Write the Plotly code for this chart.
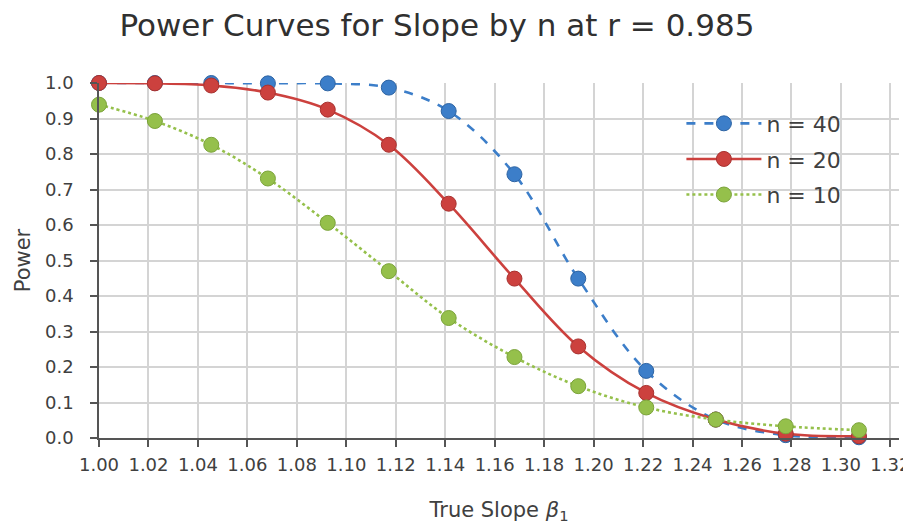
import plotly.graph_objects as go

slope = [1.000, 1.0226, 1.0454, 1.0683, 1.0925, 1.1172, 1.1414, 1.168, 1.1938, 1.2213, 1.2494, 1.2777, 1.3073]
power_n40 = [1.000, 1.000, 1.000, 0.999, 0.999, 0.987, 0.921, 0.743, 0.449, 0.189, 0.052, 0.008, 0.002]
power_n20 = [1.000, 0.999, 0.993, 0.973, 0.925, 0.826, 0.660, 0.449, 0.258, 0.127, 0.052, 0.012, 0.005]
power_n10 = [0.939, 0.893, 0.826, 0.731, 0.606, 0.470, 0.338, 0.228, 0.146, 0.086, 0.052, 0.033, 0.022]

x_ticks = [1.00 + 0.02 * i for i in range(17)]
y_ticks = [0.1 * i for i in range(11)]

series = [
    ("n = 40", power_n40, "#3C7EC9", "#2E64A3", "dash"),
    ("n = 20", power_n20, "#CC413E", "#A83230", "solid"),
    ("n = 10", power_n10, "#95C04B", "#7BA33A", "dot"),
]

font_family = "DejaVu Sans, Verdana, sans-serif"

fig = go.Figure()
for name, vals, col, edge, dash in series:
    fig.add_trace(go.Scatter(
        x=slope, y=vals, name=name, mode="lines+markers", legendgroup=name,
        line=dict(color=col, width=2.6, dash=dash, shape="spline", smoothing=1.0),
        marker=dict(size=15, color=col, line=dict(color=edge, width=1)),
        cliponaxis=False,
    ))

fig.update_layout(
    width=903, height=516,
    paper_bgcolor="white", plot_bgcolor="white",
    margin=dict(l=91, r=12, t=75, b=86, autoexpand=False),
    font=dict(family=font_family, color="#404040", size=17),
    title=dict(text="Power Curves for Slope by n at r = 0.985", x=0.475, xanchor="center",
               y=0.967, yanchor="middle", font=dict(size=31, color="#303030")),
    showlegend=True,
    legend=dict(x=0.728, y=0.945, xanchor="left", yanchor="top", bgcolor="rgba(255,255,255,0)",
                font=dict(size=22, color="#404040"), itemwidth=75, tracegroupgap=4),
    xaxis=dict(
        range=[1.0, 1.3235], tickvals=x_ticks, ticktext=[f"{v:.2f}" for v in x_ticks],
        showgrid=True, gridcolor="#D4D4D4", gridwidth=1.5,
        showline=True, linecolor="#555555", linewidth=1.5,
        ticks="outside", ticklen=7, tickcolor="#555555", tickwidth=1.5,
        tickfont=dict(size=18), automargin=False, ticklabeloverflow="allow",
        ticklabelstandoff=3,
        zeroline=False,
        title=dict(text="True Slope <i>β</i><sub>1</sub>", font=dict(size=21), standoff=30),
    ),
    yaxis=dict(
        range=[0, 1.0], tickvals=y_ticks, ticktext=[f"{v:.1f}" for v in y_ticks],
        showgrid=True, gridcolor="#D4D4D4", gridwidth=1.5,
        showline=True, linecolor="#555555", linewidth=1.5,
        ticks="outside", ticklen=7, tickcolor="#555555", tickwidth=1.5,
        tickfont=dict(size=18), ticklabelstandoff=13, automargin=False,
        zeroline=False,
        title=dict(text="Power", font=dict(size=21), standoff=9),
    ),
)

fig.write_html("out.html")
